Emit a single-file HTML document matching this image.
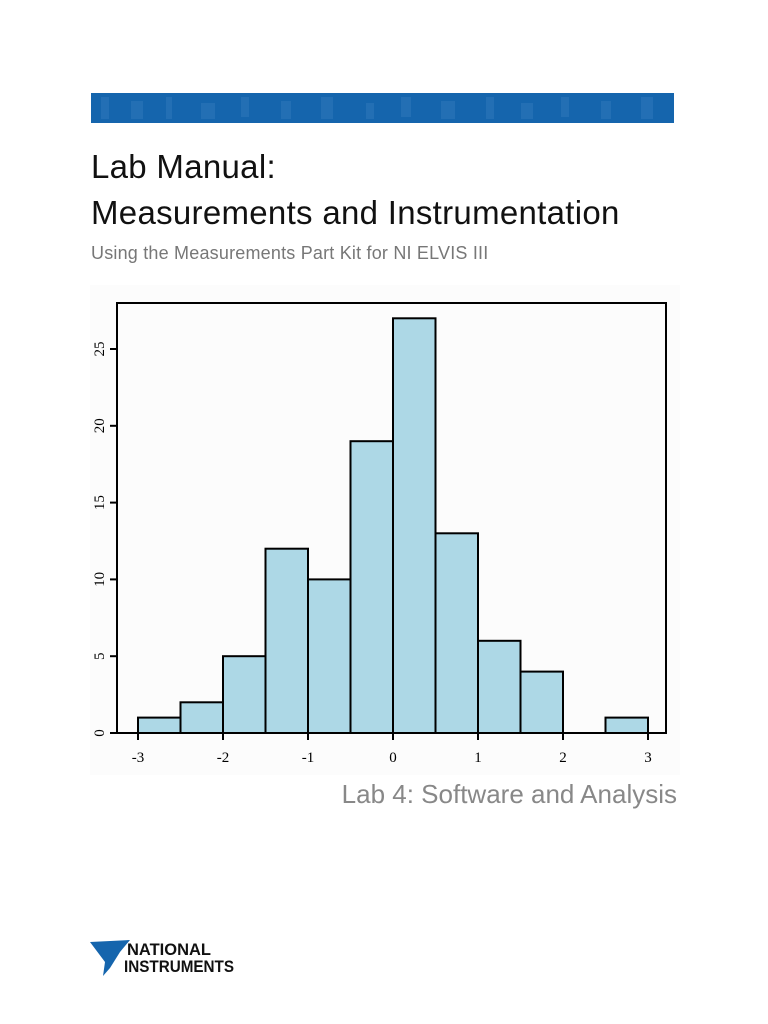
<!DOCTYPE html>
<html><head><style>
body{margin:0;width:768px;height:1024px;background:#fff;position:relative;font-family:"Liberation Sans",sans-serif;overflow:hidden}
.t{position:absolute;left:91px;color:#111;white-space:nowrap}
</style></head><body>
<svg style="position:absolute;left:91px;top:93px" width="583" height="30">
<rect width="583" height="30" fill="#1565ad"/>
<g fill="#2a74b8" opacity="0.7">
<rect x="10" y="4" width="8" height="22"/><rect x="40" y="8" width="12" height="18"/><rect x="75" y="4" width="6" height="22"/><rect x="110" y="10" width="14" height="16"/><rect x="150" y="4" width="8" height="20"/><rect x="190" y="8" width="10" height="18"/><rect x="230" y="4" width="12" height="22"/><rect x="275" y="10" width="8" height="16"/><rect x="310" y="4" width="10" height="20"/><rect x="350" y="8" width="14" height="18"/><rect x="395" y="4" width="8" height="22"/><rect x="430" y="10" width="12" height="16"/><rect x="470" y="4" width="8" height="20"/><rect x="510" y="8" width="10" height="18"/><rect x="550" y="4" width="12" height="22"/>
</g></svg>
<div class="t" style="top:148px;font-size:33px;letter-spacing:0.3px">Lab Manual:</div>
<div class="t" style="top:194px;font-size:33px;letter-spacing:0.3px">Measurements and Instrumentation</div>
<div class="t" style="top:243px;font-size:18px;color:#777;letter-spacing:0.2px">Using the Measurements Part Kit for NI ELVIS III</div>
<svg style="position:absolute;left:0;top:0" width="768" height="1024" font-family="Liberation Serif,serif" font-size="15">
<rect x="90" y="285" width="590" height="490" fill="#fcfcfc"/>
<g fill="#add8e6" stroke="#000" stroke-width="2">
<rect x="138" y="717.6" width="42.5" height="15.4"/>
<rect x="180.5" y="702.3" width="42.5" height="30.7"/>
<rect x="223" y="656.2" width="42.5" height="76.8"/>
<rect x="265.5" y="548.7" width="42.5" height="184.3"/>
<rect x="308" y="579.4" width="42.5" height="153.6"/>
<rect x="350.5" y="441.2" width="42.5" height="291.8"/>
<rect x="393" y="318.3" width="42.5" height="414.7"/>
<rect x="435.5" y="533.3" width="42.5" height="199.7"/>
<rect x="478" y="640.8" width="42.5" height="92.2"/>
<rect x="520.5" y="671.6" width="42.5" height="61.4"/>
<rect x="605.5" y="717.6" width="42.5" height="15.4"/>
</g>
<rect x="117" y="303" width="549" height="430" fill="none" stroke="#000" stroke-width="2"/>
<g stroke="#000" stroke-width="2">
<line x1="138" y1="733" x2="138" y2="740"/><line x1="223" y1="733" x2="223" y2="740"/><line x1="308" y1="733" x2="308" y2="740"/><line x1="393" y1="733" x2="393" y2="740"/><line x1="478" y1="733" x2="478" y2="740"/><line x1="563" y1="733" x2="563" y2="740"/><line x1="648" y1="733" x2="648" y2="740"/>
<line x1="110" y1="733" x2="117" y2="733"/><line x1="110" y1="656.2" x2="117" y2="656.2"/><line x1="110" y1="579.4" x2="117" y2="579.4"/><line x1="110" y1="502.6" x2="117" y2="502.6"/><line x1="110" y1="425.8" x2="117" y2="425.8"/><line x1="110" y1="349" x2="117" y2="349"/>
</g>
<g text-anchor="middle">
<text x="138" y="762">-3</text><text x="223" y="762">-2</text><text x="308" y="762">-1</text><text x="393" y="762">0</text><text x="478" y="762">1</text><text x="563" y="762">2</text><text x="648" y="762">3</text>
<text transform="translate(104,733) rotate(-90)">0</text>
<text transform="translate(104,656.2) rotate(-90)">5</text>
<text transform="translate(104,579.4) rotate(-90)">10</text>
<text transform="translate(104,502.6) rotate(-90)">15</text>
<text transform="translate(104,425.8) rotate(-90)">20</text>
<text transform="translate(104,349) rotate(-90)">25</text>
</g>
<text x="677" y="803" text-anchor="end" font-family="Liberation Sans,sans-serif" font-size="26" fill="#888">Lab 4: Software and Analysis</text>
<path d="M90 942 L130 940 L120 952 L110 968 L103 976 L105 962 Z" fill="#1565ad"/>
<text x="127" y="955" font-family="Liberation Sans,sans-serif" font-weight="bold" font-size="17" fill="#111" textLength="84" lengthAdjust="spacingAndGlyphs">NATIONAL</text>
<text x="124" y="972" font-family="Liberation Sans,sans-serif" font-weight="bold" font-size="17" fill="#111" textLength="110" lengthAdjust="spacingAndGlyphs">INSTRUMENTS</text>
</svg>
</body></html>
